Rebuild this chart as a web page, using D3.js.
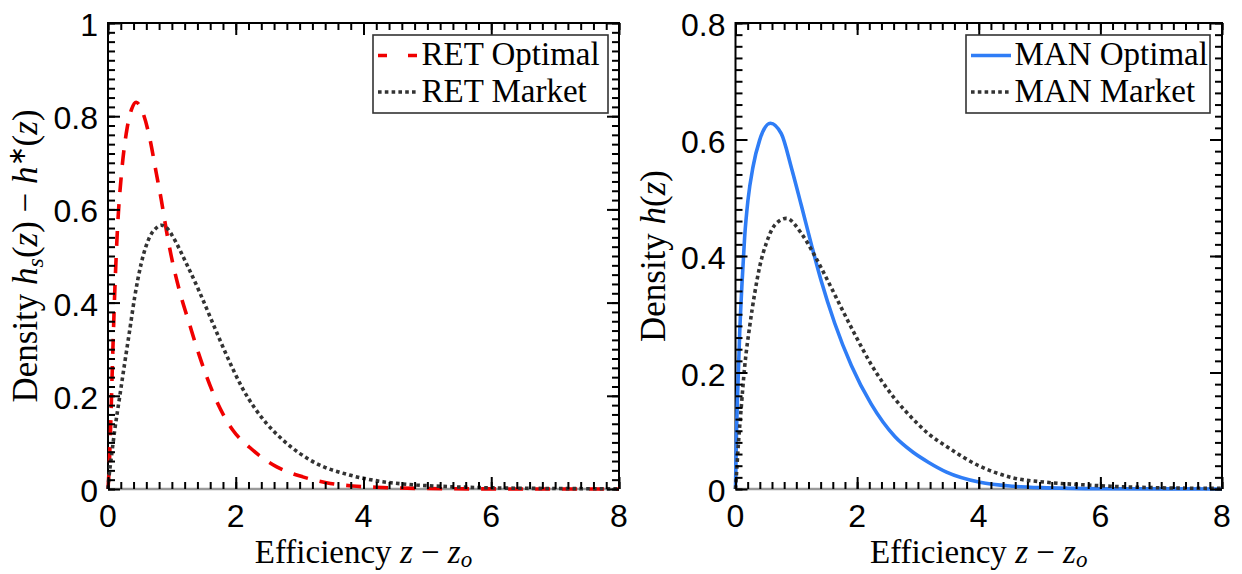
<!DOCTYPE html>
<html><head><meta charset="utf-8">
<script src="https://cdn.jsdelivr.net/npm/d3@7"></script>
<style>html,body{margin:0;padding:0;background:#fff;} svg{display:block;}</style>
</head><body><svg id="c" width="1242" height="574"></svg>
<script>
// ---------- data ----------
const xTickValues = [0, 2, 4, 6, 8];
const xTickLabels = ["0", "2", "4", "6", "8"];
const leftYTickValues = [0, 0.2, 0.4, 0.6, 0.8, 1];
const leftYTickLabels = ["0", "0.2", "0.4", "0.6", "0.8", "1"];
const rightYTickValues = [0, 0.2, 0.4, 0.6, 0.8];
const rightYTickLabels = ["0", "0.2", "0.4", "0.6", "0.8"];

const retOptimalZ = [0, 0.02, 0.045, 0.07, 0.105, 0.155, 0.21, 0.3, 0.37, 0.44, 0.55, 0.65, 0.757, 0.835, 0.914, 0.99, 1.12, 1.28, 1.435, 1.67, 1.956, 2.22, 2.635, 3.05, 3.42, 3.83, 4.3, 5.0, 6.0, 8.0];
const retOptimalH = [0, 0.05, 0.15, 0.27, 0.42, 0.575, 0.675, 0.775, 0.815, 0.83, 0.806, 0.755, 0.677, 0.62, 0.555, 0.5, 0.425, 0.352, 0.284, 0.198, 0.126, 0.089, 0.048, 0.026, 0.0135, 0.0064, 0.0032, 0.001, 0.0002, 0];

const retMarketZ = [0, 0.016, 0.053, 0.105, 0.183, 0.26, 0.34, 0.418, 0.52, 0.653, 0.74, 0.835, 0.93, 1.017, 1.227, 1.435, 1.643, 1.853, 2.11, 2.48, 2.74, 3.0, 3.26, 3.78, 4.3, 4.83, 5.35, 6.0, 7.0, 8.0];
const retMarketH = [0, 0.026, 0.069, 0.126, 0.198, 0.269, 0.341, 0.412, 0.484, 0.541, 0.558, 0.566, 0.559, 0.541, 0.484, 0.422, 0.355, 0.288, 0.215, 0.141, 0.105, 0.0765, 0.055, 0.030, 0.0157, 0.0086, 0.005, 0.0025, 0.001, 0.0005];

const manOptimalZ = [0, 0.014, 0.041, 0.069, 0.107, 0.15, 0.205, 0.288, 0.397, 0.573, 0.753, 0.918, 1.082, 1.247, 1.41, 1.63, 1.905, 2.23, 2.62, 2.92, 3.17, 3.47, 4.02, 4.57, 5.12, 6.0, 8.0];
const manOptimalH = [0, 0.085, 0.182, 0.268, 0.353, 0.432, 0.496, 0.553, 0.599, 0.628, 0.61, 0.552, 0.487, 0.42, 0.357, 0.285, 0.212, 0.146, 0.09, 0.063, 0.046, 0.029, 0.0115, 0.0046, 0.002, 0.0005, 0];

const manMarketZ = [0, 0.014, 0.041, 0.096, 0.151, 0.233, 0.316, 0.398, 0.507, 0.645, 0.836, 1.082, 1.3, 1.52, 1.74, 1.96, 2.23, 2.62, 2.92, 3.17, 3.47, 4.02, 4.57, 5.12, 5.67, 6.2, 7.0, 8.0];
const manMarketH = [0, 0.022, 0.0675, 0.142, 0.21, 0.279, 0.336, 0.382, 0.422, 0.453, 0.4646, 0.439, 0.401, 0.357, 0.311, 0.266, 0.214, 0.155, 0.12, 0.095, 0.073, 0.039, 0.019, 0.0115, 0.0075, 0.0046, 0.002, 0.001];

const leftLegendLabels = ["RET Optimal", "RET Market"];
const rightLegendLabels = ["MAN Optimal", "MAN Market"];

// ---------- drawing ----------
const svg = d3.select("#c");
const SERIF = "'Liberation Serif', 'Times New Roman', serif";
const SANS = "'Liberation Sans', Arial, sans-serif";

const styles = {
  red:    {stroke: "#f00000", width: 3.6, dash: "15,12", legendDash: "9,21"},
  blue:   {stroke: "#2f7df6", width: 3.6, dash: null, legendDash: null},
  dotted: {stroke: "#333333", width: 3.6, dash: "3.6,3.2", legendDash: "3.6,3.2"}
};

function zip(zs, hs) { return zs.map((z, i) => ({z: z, h: hs[i]})); }

function drawPanel(cfg) {
  const x = d3.scaleLinear().domain([0, 8]).range([cfg.x0, cfg.x1]);
  const y = d3.scaleLinear().domain([0, cfg.ymax]).range([cfg.y1, cfg.y0]);
  const g = svg.append("g");

  // frame
  g.append("line").attr("x1", cfg.x0).attr("x2", cfg.x1).attr("y1", cfg.y1).attr("y2", cfg.y1)
    .attr("stroke", "#9a9a9a").attr("stroke-width", 2.5);
  g.append("path")
    .attr("d", `M${cfg.x0},${cfg.y1}V${cfg.y0}H${cfg.x1}V${cfg.y1}`)
    .attr("fill", "none").attr("stroke", "#000").attr("stroke-width", 2);

  // tick labels
  g.append("g").selectAll("text").data(xTickValues).join("text")
    .attr("x", v => x(v)).attr("y", cfg.y1 + 38)
    .attr("text-anchor", "middle").attr("font-family", SANS).attr("font-size", 32)
    .text((v, i) => xTickLabels[i]);
  g.append("g").selectAll("text").data(cfg.yTicks).join("text")
    .attr("x", cfg.x0 - 10).attr("y", v => y(v) + 13)
    .attr("text-anchor", "end").attr("font-family", SANS).attr("font-size", 32)
    .text((v, i) => cfg.yLabels[i]);

  // curves
  const clipId = "clip" + cfg.id;
  svg.append("clipPath").attr("id", clipId).append("rect")
    .attr("x", cfg.x0 - 3).attr("y", cfg.y0).attr("width", cfg.x1 - cfg.x0 + 3).attr("height", cfg.y1 - cfg.y0 + 3);
  const line = d3.line().x(p => x(p.z)).y(p => y(p.h)).curve(d3.curveMonotoneX);
  const cg = g.append("g").attr("clip-path", `url(#${clipId})`);
  cfg.series.forEach(s => {
    const st = styles[s.style];
    cg.append("path").datum(zip(s.z, s.h)).attr("d", line)
      .attr("fill", "none").attr("stroke", st.stroke).attr("stroke-width", st.width)
      .attr("stroke-dasharray", st.dash).attr("stroke-linejoin", "round");
  });

  // ticks (inward, all four sides) drawn on top, via d3 axes
  const xMinor = d3.range(0, 41).map(i => i * 0.2);
  const yN = Math.round(cfg.ymax / 0.02);
  const yMinor = d3.range(0, yN + 1).map(i => i * 0.02);
  const xMajor = xMinor.filter((v, i) => i % 10 === 0);
  const yMajor = yMinor.filter((v, i) => i % 10 === 0);
  function tickAxis(axisFn, scale, vals, size, tx, ty) {
    const a = g.append("g").attr("transform", `translate(${tx},${ty})`)
      .call(axisFn(scale).tickValues(vals).tickSize(size).tickFormat(""));
    a.select(".domain").remove();
    a.selectAll("line").attr("stroke", "#000").attr("stroke-width", 2);
  }
  tickAxis(d3.axisBottom, x, xMinor, -7, 0, cfg.y1);
  tickAxis(d3.axisBottom, x, xMajor, -12, 0, cfg.y1);
  tickAxis(d3.axisTop, x, xMinor, -7, 0, cfg.y0);
  tickAxis(d3.axisTop, x, xMajor, -12, 0, cfg.y0);
  tickAxis(d3.axisLeft, y, yMinor, -7, cfg.x0, 0);
  tickAxis(d3.axisLeft, y, yMajor, -12, cfg.x0, 0);
  tickAxis(d3.axisRight, y, yMinor, -7, cfg.x1, 0);
  tickAxis(d3.axisRight, y, yMajor, -12, cfg.x1, 0);

  // x label
  const xl = g.append("text").attr("x", (cfg.x0 + cfg.x1) / 2).attr("y", 563)
    .attr("text-anchor", "middle").attr("font-family", SERIF).attr("font-size", 33);
  xl.append("tspan").text("Efficiency ");
  xl.append("tspan").attr("font-style", "italic").text("z");
  xl.append("tspan").text(" \u2212 ");
  xl.append("tspan").attr("font-style", "italic").text("z");
  xl.append("tspan").attr("font-style", "italic").attr("font-size", 23).attr("dy", 4).text("o");

  // y label
  const yl = g.append("text").attr("transform", `translate(${cfg.ylx},${(cfg.y0 + cfg.y1) / 2}) rotate(-90)`)
    .attr("text-anchor", "middle").attr("font-family", SERIF).attr("font-size", 35);
  cfg.ylabel(yl);

  // legend
  const lg = g.append("g");
  lg.append("rect").attr("x", cfg.leg.x).attr("y", cfg.leg.y).attr("width", cfg.leg.w).attr("height", cfg.leg.h)
    .attr("fill", "#fff").attr("stroke", "#333").attr("stroke-width", 1.6);
  cfg.series.forEach((s, i) => {
    const st = styles[s.style];
    const yy = cfg.leg.y + 20.5 + i * 36.5;
    lg.append("line").attr("x1", cfg.leg.x + 5).attr("x2", cfg.leg.x + 45).attr("y1", yy).attr("y2", yy)
      .attr("stroke", st.stroke).attr("stroke-width", st.width).attr("stroke-dasharray", st.legendDash);
    lg.append("text").attr("x", cfg.leg.x + 48.5).attr("y", yy + 9.5)
      .attr("font-family", SERIF).attr("font-size", 33).attr("fill", "#000").text(cfg.legendLabels[i]);
  });
}

drawPanel({
  id: "L", x0: 108, x1: 619, y0: 23, y1: 489, ymax: 1,
  yTicks: leftYTickValues, yLabels: leftYTickLabels, ylx: 37,
  leg: {x: 373, y: 35, w: 235, h: 78},
  legendLabels: leftLegendLabels,
  series: [
    {z: retOptimalZ, h: retOptimalH, style: "red"},
    {z: retMarketZ, h: retMarketH, style: "dotted"}
  ],
  ylabel: t => {
    t.append("tspan").text("Density ");
    t.append("tspan").attr("font-style", "italic").text("h");
    t.append("tspan").attr("font-style", "italic").attr("font-size", 24).attr("dy", 6).text("s");
    t.append("tspan").attr("dy", -6).text("(");
    t.append("tspan").attr("font-style", "italic").text("z");
    t.append("tspan").text(") \u2212 ");
    t.append("tspan").attr("font-style", "italic").text("h");
    t.append("tspan").attr("font-size", 24).attr("dy", -12).text("\u2217");
    t.append("tspan").attr("dy", 12).text("(");
    t.append("tspan").attr("font-style", "italic").text("z");
    t.append("tspan").text(")");
  }
});

drawPanel({
  id: "R", x0: 735.5, x1: 1222, y0: 23, y1: 489, ymax: 0.8,
  yTicks: rightYTickValues, yLabels: rightYTickLabels, ylx: 665,
  leg: {x: 966, y: 35, w: 244, h: 78},
  legendLabels: rightLegendLabels,
  series: [
    {z: manOptimalZ, h: manOptimalH, style: "blue"},
    {z: manMarketZ, h: manMarketH, style: "dotted"}
  ],
  ylabel: t => {
    t.append("tspan").text("Density ");
    t.append("tspan").attr("font-style", "italic").text("h");
    t.append("tspan").text("(");
    t.append("tspan").attr("font-style", "italic").text("z");
    t.append("tspan").text(")");
  }
});
</script>
</body></html>
